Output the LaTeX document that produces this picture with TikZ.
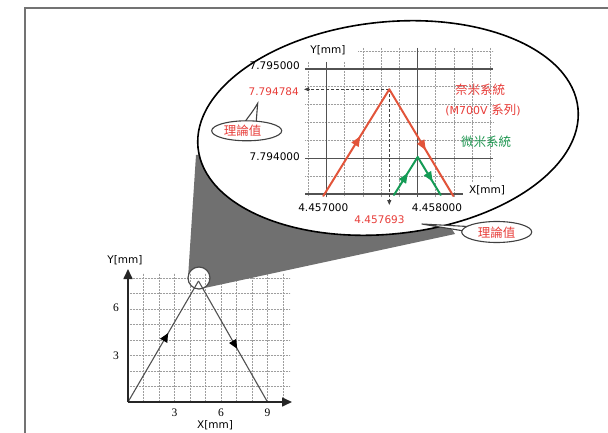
\documentclass[tikz,border=0pt]{standalone}
\usepackage{fontspec}
\setmainfont{DejaVu Sans}
\newfontfamily\cjk{Noto Sans CJK TC}
\newfontfamily\serifdig{Liberation Serif}
\usetikzlibrary{arrows.meta,decorations.markings}
\definecolor{txtred}{RGB}{232,62,58}
\definecolor{linered}{RGB}{226,84,58}
\definecolor{txtgreen}{RGB}{30,150,80}
\definecolor{linegreen}{RGB}{20,155,85}
\definecolor{conegray}{RGB}{112,112,112}
\begin{document}
\begin{tikzpicture}[x=1pt,y=-1pt,
  minorgrid/.style={draw=black!38, line width=1pt, dash pattern=on 0.8pt off 0.7pt},
  majorgrid/.style={draw=black!68, line width=1.1pt},
  midarrow/.style={postaction={decorate,decoration={markings,mark=at position #1 with {\arrow{Triangle[length=10pt,width=8pt]}}}}},
  smallarrow/.style={postaction={decorate,decoration={markings,mark=at position #1 with {\arrow[black]{Triangle[length=9pt,width=8pt]}}}}},
  numlbl/.style={font=\fontsize{10.5}{12}\selectfont, inner sep=0pt},
  serlbl/.style={font=\serifdig\fontsize{11.5}{12}\selectfont, inner sep=0pt},
  cjklbl/.style={font=\cjk\fontsize{12.5}{14}\selectfont, inner sep=0pt},
  bubble/.style={draw=black!75, line width=1.1pt, fill=white},
  dasharrow/.style={draw=black!75, line width=0.9pt, dash pattern=on 3pt off 2pt, -{Triangle[length=5pt,width=4pt]}},
  axisline/.style={draw=black!85, line width=1.6pt, -{Triangle[length=10pt,width=9pt]}}
]
\useasboundingbox (0,0) rectangle (608,433);
% frame
\draw[black!55, line width=1.5pt] (25,433) -- (25,8) -- (608,8);

% ---------- small chart grid ----------
\foreach \i in {1,...,10}{\draw[minorgrid] ({128+15.5*\i},402) -- ({128+15.5*\i},273);}
\foreach \j in {1,...,8}{\draw[minorgrid] (128,{402-15.5*\j}) -- (290,{402-15.5*\j});}

% ---------- gray cone ----------
\fill[conegray] (188,278) -- (196,155) -- (388,128) -- (455,234) -- (201.4,288.7)
   arc[start angle=77.5, end angle=-180, radius=11] -- cycle;

% ---------- big ellipse ----------
\draw[fill=white, line width=1.6pt, rotate around={6:(388,128)}] (388,128) ellipse [x radius=191, y radius=106];

% ---------- big chart grid ----------
\foreach \k in {-1,0,1}{\draw[minorgrid] ({326.7+18.2*\k},62) -- ({326.7+18.2*\k},197);}
\foreach \k in {2,...,7}{\draw[minorgrid] ({326.7+18.2*\k},48) -- ({326.7+18.2*\k},197);}
\foreach \k in {8,9}{\draw[minorgrid] ({326.7+18.2*\k},48) -- ({326.7+18.2*\k},182);}
\draw[minorgrid] (358,51.1) -- (493,51.1);
\foreach \j in {1,2,3,4}{\draw[minorgrid] (305,{69+17.86*\j}) -- (493,{69+17.86*\j});}
\draw[minorgrid] (305,176.2) -- (493,176.2);
\draw[majorgrid] (326.7,62) -- (326.7,197);
\draw[majorgrid] (417.7,48) -- (417.7,197);
\draw[majorgrid] (305,69) -- (493,69);
\draw[majorgrid] (305,158.3) -- (493,158.3);
\draw[majorgrid] (305,194) -- (463,194);

% red path
\coordinate (r0) at (323.3,196);
\coordinate (r1) at (389.3,89.3);
\coordinate (r2) at (453.3,196);
\coordinate (hx) at (304,89.3);
\coordinate (vy) at (389.3,205);
\draw[dasharrow] (r1) -- (hx);
\draw[dasharrow] (r1) -- (vy);
\draw[linered, line width=2pt, line cap=round, midarrow=0.56] (r0) -- (r1);
\draw[linered, line width=2pt, line cap=round, midarrow=0.57] (r1) -- (r2);
% green path
\coordinate (g0) at (394,195);
\coordinate (g1) at (417.7,157);
\coordinate (g2) at (440.7,195);
\draw[linegreen, line width=2pt, line cap=round, midarrow=0.58] (g0) -- (g1);
\draw[linegreen, line width=2pt, line cap=round, midarrow=0.65] (g1) -- (g2);

% big chart labels
\node[numlbl] (by) at (328,50) {Y[mm]};
\node[numlbl, anchor=east] (y1) at (300,66) {7.795000};
\node[numlbl, anchor=east, text=txtred] (y2) at (299,92) {7.794784};
\node[numlbl, anchor=east] (y3) at (300,157) {7.794000};
\node[numlbl] (x1) at (323.3,207.5) {4.457000};
\node[numlbl] (x2) at (437,207.5) {4.458000};
\node[numlbl, text=txtred] (x3) at (379.5,220) {4.457693};
\node[numlbl] (bx) at (487,190.5) {X[mm]};
\node[cjklbl, text=txtred] (nano) at (480,89.5) {奈米系統};
\node[inner sep=0pt, text=txtred] (m700) at (483,110) {\fontsize{11}{13}\selectfont(M700V {\cjk\fontsize{12.5}{14}\selectfont 系列})};
\node[cjklbl, text=txtgreen] (micro) at (486,141.7) {微米系統};

% left bubble
\draw[bubble] (243.3,124) .. controls (249,116) and (254,110) .. (257.7,103.3) -- (256,124) -- cycle;
\draw[bubble] (246.7,130.8) ellipse [x radius=35, y radius=10];
\node[cjklbl, text=txtred] (b1) at (242.5,130.8) {理論值};
% right bubble
\draw[bubble] (421.7,224) -- (468,226.5) -- (464,231) -- cycle;
\draw[bubble] (496.7,232) ellipse [x radius=35, y radius=10.5];
\node[cjklbl, text=txtred] (b2) at (496.7,232.3) {理論值};

% ---------- small chart ----------
\coordinate (O) at (128,402);
\coordinate (A) at (198.5,281);
\coordinate (B) at (267.5,402);
\draw[black!68, line width=1.1pt, smallarrow=0.57] (O) -- (A);
\draw[black!68, line width=1.1pt, smallarrow=0.56] (A) -- (B);
\coordinate (xe) at (292,402);
\coordinate (ye) at (128,269);
\draw[axisline] (O) -- (xe);
\draw[axisline] (O) -- (ye);
\node[draw=black!70, line width=1.2pt, circle, minimum size=22pt, inner sep=0pt] (zc) at (199,278) {};
\node[numlbl] (sy) at (125,260) {Y[mm]};
\node[numlbl] (sx) at (215,425) {X[mm]};
\node[serlbl] (t3) at (174.5,413) {3};
\node[serlbl] (t6) at (221,413) {6};
\node[serlbl] (t9) at (267.5,413) {9};
\node[serlbl] (u6) at (116,308) {6};
\node[serlbl] (u3) at (116,355.5) {3};
\end{tikzpicture}
\end{document}
